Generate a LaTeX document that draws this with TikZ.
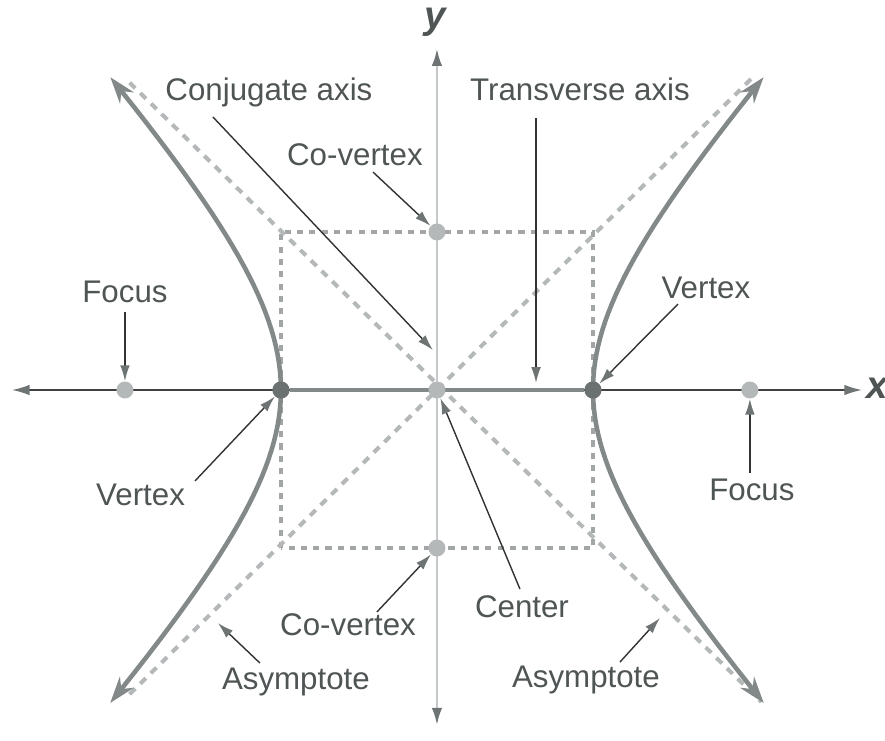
\documentclass[tikz,border=0pt]{standalone}
\usepackage{fontspec}
\setmainfont{Liberation Sans}
\usetikzlibrary{arrows.meta}
\definecolor{curvegray}{HTML}{838989}
\definecolor{dotdark}{HTML}{6B7171}
\definecolor{dotlight}{HTML}{B4B8B8}
\definecolor{dashgray}{HTML}{B4B8B8}
\definecolor{axisgray}{HTML}{C4C8C8}
\definecolor{textgray}{HTML}{4F5454}
\definecolor{tipgray}{HTML}{6E7474}
\tikzset{
  dot/.style={circle,inner sep=0pt,minimum size=0.34cm,fill=#1},
  lbl/.style={text=textgray,font=\fontsize{17.8}{20}\selectfont},
  lblarrow/.style={draw=black!80,line width=0.8pt,-{Latex[length=9pt,width=5.5pt,color=tipgray]}},
  branch/.style={draw=curvegray,line width=2.6pt,{Stealth[length=15pt,width=10pt]}-{Stealth[length=15pt,width=10pt]}},
  asym/.style={draw=dashgray,line width=2.3pt,dash pattern=on 4.5pt off 4pt},
  boxdash/.style={draw=dashgray!90!black,line width=2pt,dash pattern=on 3.5pt off 3.5pt},
}
\begin{document}
\begin{tikzpicture}[x=3.12cm,y=3.12cm]
    \useasboundingbox (-2.801,-2.244) rectangle (2.872,2.5);

    \draw[boxdash] (-1,-1.013) rectangle (1,1.013);
    \draw[asym] (-1.97,1.97) -- (2.08,-2.0);
    \draw[asym] (-1.97,-1.95) -- (2.03,2.01);

    \node[text=textgray,font=\fontsize{22}{24}\selectfont\bfseries\itshape] (ylab) at (-0.013,2.359) {y};
    \node[text=textgray,font=\fontsize{22}{24}\selectfont\bfseries\itshape] (xlab) at (2.82,0.013) {x};
    \coordinate (yTop) at (0,2.19);
    \coordinate (yBot) at (0,-2.15);
    \coordinate (xLeft) at (-2.724,0);
    \coordinate (xRight) at (2.724,0);
    \draw[axisgray,line width=1.6pt,{Latex[length=10pt,width=6pt,color=tipgray]}-{Latex[length=10pt,width=6pt,color=tipgray]}] (yBot) -- (yTop);
    \draw[black!75,line width=0.9pt,{Latex[length=10pt,width=6pt,color=tipgray]}-{Latex[length=10pt,width=6pt,color=tipgray]}] (xLeft) -- (xRight);

    \node[dot=dotdark] (vtxL) at (-1,0) {};
    \node[dot=dotdark] (vtxR) at (1,0) {};
    \draw[curvegray,line width=2.6pt] (vtxL) -- (vtxR);

    \draw[branch] plot[domain=-1.37:1.37,variable=\t,samples=60] ({-cosh(\t)},{1.09*sinh(\t)});
    \draw[branch] plot[domain=-1.37:1.37,variable=\t,samples=60] ({cosh(\t)},{1.09*sinh(\t)});

    \node[dot=dotdark] at (-1,0) {};
    \node[dot=dotdark] at (1,0) {};
    \node[dot=dotlight] (ctr) at (0,0) {};
    \node[dot=dotlight] (coTop) at (0,1.013) {};
    \node[dot=dotlight] (coBot) at (0,-1.013) {};
    \node[dot=dotlight] (focL) at (-2,0) {};
    \node[dot=dotlight] (focR) at (2.006,0) {};

    \foreach \n/\x/\y/\t in {
        lConj/-1.077/1.91/Conjugate axis,
        lTrans/0.917/1.929/Transverse axis,
        lCoTop/-0.526/1.506/Co-vertex,
        lFocL/-2.0/0.628/Focus,
        lVtxR/1.724/0.654/Vertex,
        lVtxL/-1.9/-0.673/Vertex,
        lFocR/2.019/-0.641/Focus,
        lCenter/0.545/-1.391/Center,
        lCoBot/-0.57/-1.506/Co-vertex,
        lAsymL/-0.904/-1.872/Asymptote,
        lAsymR/0.955/-1.859/Asymptote}{
      \node[lbl] (\n) at (\x,\y) {\t};
    }

    \coordinate (tConj) at (-1.436,1.75);
    \coordinate (hConj) at (-0.026,0.256);
    \coordinate (tTrans) at (0.635,1.744);
    \coordinate (hTrans) at (0.635,0.045);
    \coordinate (tCoTop) at (-0.41,1.397);
    \coordinate (tFocL) at (-2.0,0.5);
    \coordinate (tVtxR) at (1.545,0.551);
    \coordinate (tVtxL) at (-1.551,-0.583);
    \coordinate (tFocR) at (2.006,-0.53);
    \coordinate (tCenter) at (0.532,-1.276);
    \coordinate (tCoBot) at (-0.385,-1.423);
    \coordinate (tAsymL) at (-1.135,-1.75);
    \coordinate (hAsymL) at (-1.404,-1.494);
    \coordinate (tAsymR) at (1.173,-1.744);
    \coordinate (hAsymR) at (1.429,-1.462);

    \foreach \a/\b in {tConj/hConj,tTrans/hTrans,tCoTop/coTop,tFocL/focL,
        tVtxR/vtxR,tVtxL/vtxL,tFocR/focR,tCenter/ctr,tCoBot/coBot,
        tAsymL/hAsymL,tAsymR/hAsymR}{
      \draw[lblarrow] (\a) -- (\b);
    }
  \end{tikzpicture}
\end{document}
